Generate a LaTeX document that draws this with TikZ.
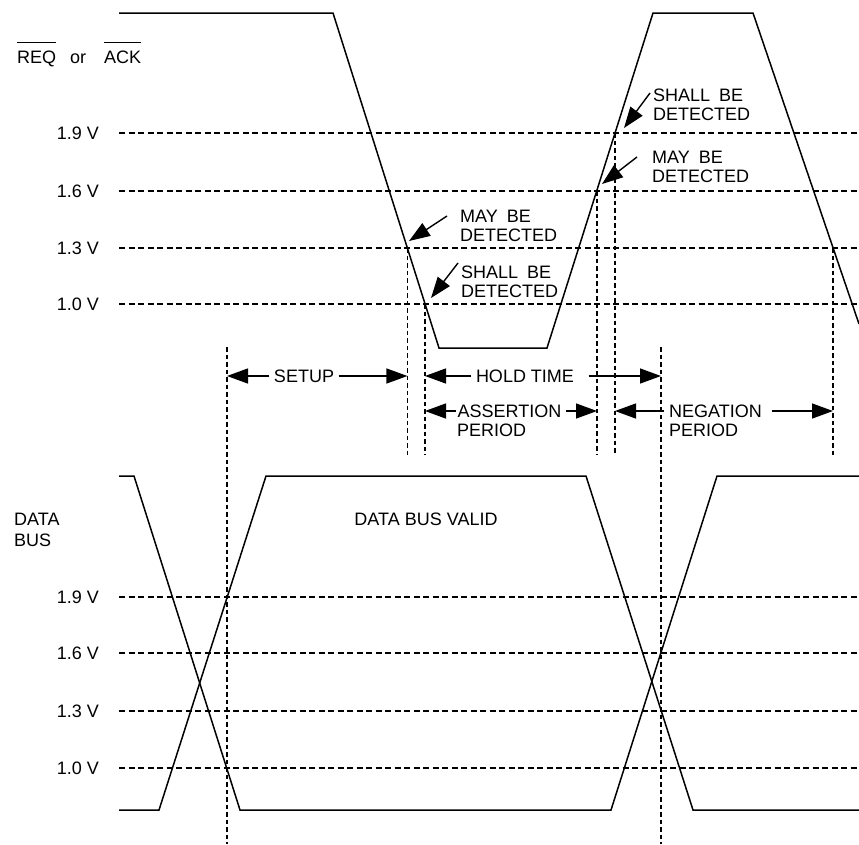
\documentclass[tikz,border=0pt]{standalone}
\usepackage{fontspec}
\setmainfont{Liberation Sans}
\usetikzlibrary{arrows.meta}

\begin{document}
\begin{tikzpicture}[x=1pt, y=-1pt,
  sig/.style={line width=1.5pt, line join=miter},
  lvl/.style={line width=1.2pt, dash pattern=on 6pt off 3.5pt},
  vln/.style={line width=1.2pt, dash pattern=on 4.5pt off 3pt},
  ptr/.style={line width=1.4pt, -{Triangle[length=21pt, width=15pt]}},
  bar/.style={line width=1.2pt},
  txt/.style={font=\fontsize{18}{19.5}\selectfont, inner sep=0pt, align=left},
  per/.style={txt, inner xsep=4.5pt}]
  \useasboundingbox (0,0) rectangle (859,844);
  % pixel grid, y grows downwards
  % REQ / ACK signal
  \node[txt, anchor=base west] (req) at (17,63)  {REQ};
  \node[txt, anchor=base west] (orw) at (70,63)  {or};
  \node[txt, anchor=base west] (ack) at (104,63) {ACK};
  \draw[bar] ([yshift=8pt]req.north west) -- ([yshift=8pt]req.north east);
  \draw[bar] ([yshift=8pt]ack.north west) -- ([yshift=8pt]ack.north east);
  \foreach \y/\v in {133/1.9, 191/1.6, 248/1.3, 304/1.0} {
    \draw[lvl] (119,\y) -- (859,\y);
    \node[txt, anchor=east] (ta\y) at (99,\y) {\v\ V};
  }
  \draw[sig] (119,13) -- (333,13) -- (439,348) -- (547,348) -- (653,13)
    -- (753,13) -- (859,324);

  % DATA BUS signal
  \node[txt, anchor=west, font=\fontsize{18}{21}\selectfont] (bus) at (14,529.5) {DATA\\BUS};
  \node[txt] (valid) at (426,519) {DATA BUS VALID};
  \foreach \y/\v in {597/1.9, 653/1.6, 711/1.3, 768/1.0} {
    \draw[lvl] (119,\y) -- (859,\y);
    \node[txt, anchor=east] (tb\y) at (99,\y) {\v\ V};
  }
  \draw[sig] (119,476) -- (134,476) -- (240,810) -- (611,810) -- (717,476) -- (859,476);
  \draw[sig] (119,810) -- (159,810) -- (266,476) -- (586,476) -- (693,810) -- (859,810);

  % threshold crossings
  \coordinate (f13) at (407.4,248);
  \coordinate (f10) at (425,304);
  \coordinate (r16) at (597,191);
  \coordinate (r19) at (615,133);
  \coordinate (g13) at (833,248);
  \coordinate (dv0) at (227,347);
  \coordinate (dv1) at (661,347);
  \foreach \c in {f13, f10, r16, r19, g13}
    \draw[vln] (\c) -- (\c |- 0,455);
  \draw[vln] (dv0) -- (dv0 |- 0,844);
  \draw[vln] (dv1) -- (dv1 |- 0,844);

  % timing arrows
  \coordinate (s0) at (dv0 |- 0,376);
  \coordinate (s1) at (f13 |- 0,376);
  \coordinate (h0) at (f10 |- 0,376);
  \coordinate (h1) at (dv1 |- 0,376);
  \coordinate (a0) at (f10 |- 0,411);
  \coordinate (a1) at (r16 |- 0,411);
  \coordinate (n0) at (r19 |- 0,411);
  \coordinate (n1) at (g13 |- 0,411);
  \node[per] (setup) at (304,376) {SETUP};
  \draw[ptr] (setup) -- (s0);
  \draw[ptr] (setup) -- (s1);
  \node[per] (hold) at (525,376) {HOLD TIME};
  \draw[ptr] (hold) -- (h0);
  \draw[ptr] ([xshift=10pt]hold.east) -- (h1);
  \node[per] (asrt) at (509.5,411) {ASSERTION};
  \node[txt, anchor=west] (asrtp) at (457,430) {PERIOD};
  \draw[ptr] ([xshift=3pt]asrt.west) -- (a0);
  \draw[ptr] (asrt) -- (a1);
  \node[per] (negt) at (715.5,411) {NEGATION};
  \node[txt, anchor=west] (negtp) at (669,430) {PERIOD};
  \draw[ptr] (negt) -- (n0);
  \draw[ptr] ([xshift=5pt]negt.east) -- (n1);

  % detection notes
  \node[txt, anchor=west] (maylo)   at (460,226) {MAY\hspace{9pt}BE\\DETECTED};
  \node[txt, anchor=west] (shalllo) at (461,282) {SHALL\hspace{9pt}BE\\DETECTED};
  \node[txt, anchor=west] (shallhi) at (653,105) {SHALL\hspace{9pt}BE\\DETECTED};
  \node[txt, anchor=west] (mayhi)   at (652,167) {MAY\hspace{9pt}BE\\DETECTED};
  \coordinate (mayloT) at (447,216);   \coordinate (mayloP) at (409,241);
  \coordinate (shallloT) at (458,263); \coordinate (shallloP) at (431,298);
  \coordinate (shallhiT) at (650,93);  \coordinate (shallhiP) at (624,128);
  \coordinate (mayhiT) at (637,157);   \coordinate (mayhiP) at (602,184);
  \draw[ptr] (mayloT) -- (mayloP);
  \draw[ptr] (shallloT) -- (shallloP);
  \draw[ptr] (shallhiT) -- (shallhiP);
  \draw[ptr] (mayhiT) -- (mayhiP);
\end{tikzpicture}
\end{document}
